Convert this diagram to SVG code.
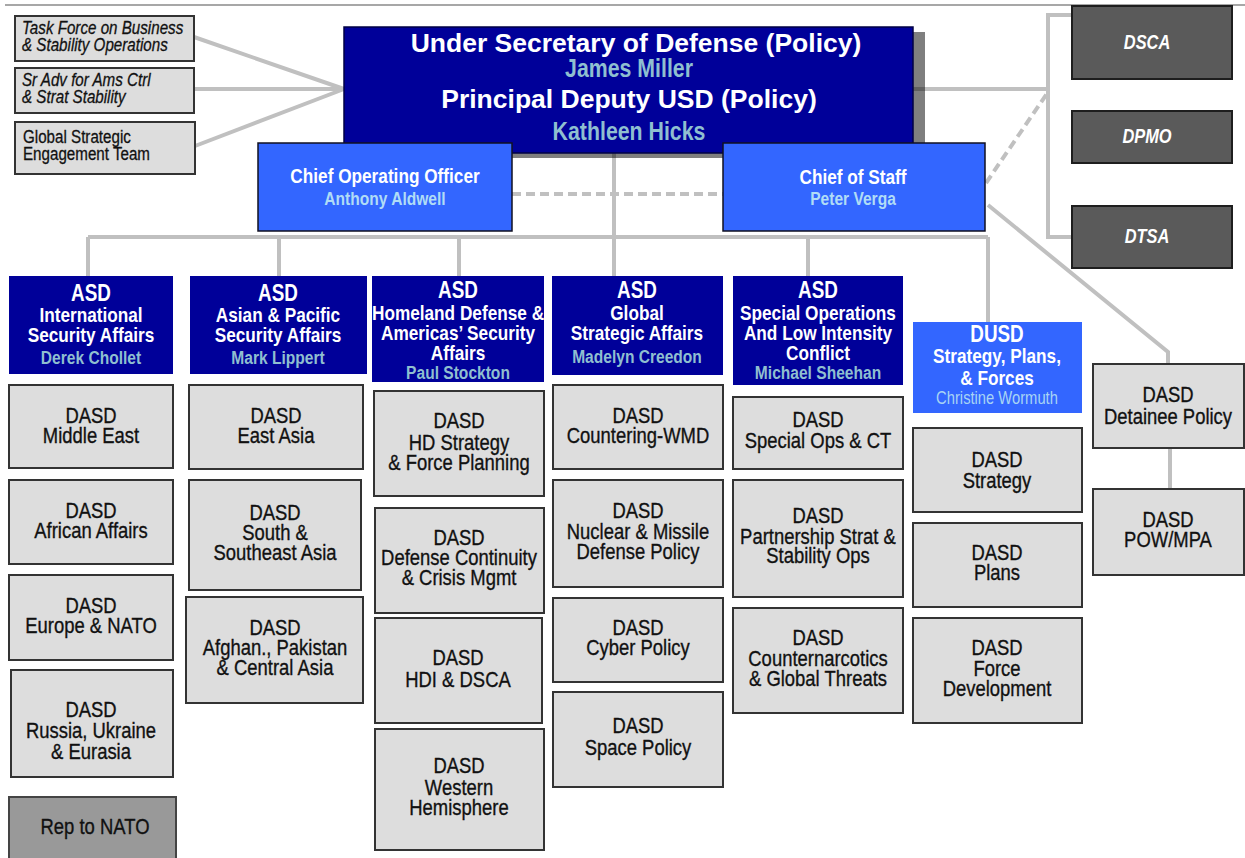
<svg xmlns="http://www.w3.org/2000/svg" width="1245" height="858" viewBox="0 0 1245 858">
  <style>
    .ln { fill: none; stroke: #c0c0c0; stroke-width: 4; }
    .dash { stroke-dasharray: 9 5; }
    .top { fill: none; stroke: #8a8a8a; stroke-width: 1.5; }
    .usd { fill: #000099; stroke: #000044; stroke-width: 1.5; }
    .asd { fill: #000099; }
    .lb  { fill: #3366ff; stroke: #111122; stroke-width: 1.5; }
    .lbx { fill: #3366ff; }
    .dasd { fill: #dddddd; stroke: #333333; stroke-width: 2; }
    .agency { fill: #5a5a5a; stroke: #1e1e1e; stroke-width: 2; }
    .rep { fill: #999999; stroke: #444444; stroke-width: 2; }
    text { text-anchor: middle; font-family: "Liberation Sans", Arial, sans-serif; }
    .wide { font-weight: bold; font-size: 26.5px; fill: #ffffff; }
    /* narrow lettering: Liberation Sans squeezed horizontally to 82% by each text's matrix */
    .nb { font-weight: bold; }
    .nr { font-weight: normal; }
    .hd { font-size: 21px; fill: #ffffff; }
    .hd .t { font-size: 23px; }
    .nm { font-size: 19px; fill: #8fbfd0; }
    .nml { font-size: 19px; fill: #b0dcf6; }
    .dt { font-size: 22.5px; fill: #111111; stroke: #111111; stroke-width: 0.35; }
    .ag { font-size: 20px; fill: #ffffff; font-style: italic; }
    .sm { font-size: 18.5px; fill: #111111; stroke: #111111; stroke-width: 0.3; text-anchor: start; }
    .it { font-style: italic; }
  </style>

  <!-- page rule -->
  <line class="top" x1="5" y1="5" x2="1245" y2="5"/>

  <!-- connectors -->
  <g id="connectors">
    <polyline class="ln" points="194,37 344,89 194,89"/>
    <line class="ln" x1="195" y1="146" x2="344" y2="89"/>
    <line class="ln" x1="913" y1="89" x2="1048" y2="89"/>
    <polyline class="ln" points="1073,15 1048,15 1048,237 1073,237"/>
    <line class="ln dash" x1="986" y1="183" x2="1048" y2="92"/>
    <line class="ln dash" x1="512" y1="194" x2="723" y2="194"/>
    <line class="ln" x1="614" y1="153" x2="614" y2="276"/>
    <line class="ln" x1="88" y1="237" x2="988" y2="237"/>
    <line class="ln" x1="88" y1="237" x2="88" y2="276"/>
    <line class="ln" x1="279" y1="237" x2="279" y2="276"/>
    <line class="ln" x1="459" y1="237" x2="459" y2="276"/>
    <line class="ln" x1="808" y1="237" x2="808" y2="276"/>
    <line class="ln" x1="988" y1="237" x2="988" y2="322"/>
    <polyline class="ln" points="988,205 1168,352 1168,364"/>
    <line class="ln" x1="1170" y1="448" x2="1170" y2="489"/>
  </g>

  <!-- advisory offices -->
  <g id="task-force">
    <rect class="dasd" x="15" y="16" width="179" height="45"/>
    <text class="nr sm it" transform="matrix(.82 0 0 1 22 0)"><tspan x="0" y="34">Task Force on Business</tspan><tspan x="0" y="51">&amp; Stability Operations</tspan></text>
  </g>
  <g id="sr-adv">
    <rect class="dasd" x="15" y="68" width="179" height="45"/>
    <text class="nr sm it" transform="matrix(.82 0 0 1 22 0)"><tspan x="0" y="86">Sr Adv for Ams Ctrl</tspan><tspan x="0" y="103">&amp; Strat Stability</tspan></text>
  </g>
  <g id="gset">
    <rect class="dasd" x="15" y="122" width="180" height="52"/>
    <text class="nr sm" transform="matrix(.82 0 0 1 23 0)"><tspan x="0" y="143">Global Strategic</tspan><tspan x="0" y="160">Engagement Team</tspan></text>
  </g>

  <!-- USD(P) -->
  <g id="usdp">
    <rect x="356" y="32" width="569" height="126" fill="#000000" fill-opacity="0.5"/>
    <rect class="usd" x="344" y="27" width="569" height="126"/>
    <text class="wide" x="636" y="52">Under Secretary of Defense (Policy)</text>
    <text class="nb" transform="matrix(.82 0 0 1 629 0)" x="0" y="77" font-size="26" fill="#8fbfd0">James Miller</text>
    <text class="wide" x="629" y="108">Principal Deputy USD (Policy)</text>
    <text class="nb" transform="matrix(.82 0 0 1 629 0)" x="0" y="140" font-size="26" fill="#8fbfd0">Kathleen Hicks</text>
  </g>

  <g id="coo">
    <rect class="lb" x="258" y="143" width="254" height="88"/>
    <text class="nb hd" transform="matrix(.82 0 0 1 385 0)" x="0" y="183" font-size="24">Chief Operating Officer</text>
    <text class="nb nml" transform="matrix(.82 0 0 1 385 0)" x="0" y="205">Anthony Aldwell</text>
  </g>
  <g id="cos">
    <rect class="lb" x="723" y="143" width="262" height="88"/>
    <text class="nb hd" transform="matrix(.82 0 0 1 853 0)" x="0" y="184" font-size="24">Chief of Staff</text>
    <text class="nb nml" transform="matrix(.82 0 0 1 853 0)" x="0" y="205">Peter Verga</text>
  </g>

  <!-- defense agencies -->
  <g id="dsca">
    <rect class="agency" x="1072" y="6" width="160" height="73"/>
    <text class="nb ag" transform="matrix(.82 0 0 1 1147 0)" x="0" y="49">DSCA</text>
  </g>
  <g id="dpmo">
    <rect class="agency" x="1072" y="111" width="160" height="52"/>
    <text class="nb ag" transform="matrix(.82 0 0 1 1147 0)" x="0" y="143">DPMO</text>
  </g>
  <g id="dtsa">
    <rect class="agency" x="1072" y="206" width="160" height="62"/>
    <text class="nb ag" transform="matrix(.82 0 0 1 1147 0)" x="0" y="243">DTSA</text>
  </g>

  <!-- assistant secretaries -->
  <g id="asd-isa">
    <rect class="asd" x="9" y="276" width="164" height="98"/>
    <text class="nb hd" transform="matrix(.82 0 0 1 91 0)"><tspan class="t" x="0" y="301">ASD</tspan><tspan x="0" y="322">International</tspan><tspan x="0" y="342">Security Affairs</tspan></text>
    <text class="nb nm" transform="matrix(.82 0 0 1 91 0)" x="0" y="364">Derek Chollet</text>
  </g>
  <g id="asd-apsa">
    <rect class="asd" x="190" y="276" width="177" height="98"/>
    <text class="nb hd" transform="matrix(.82 0 0 1 278 0)"><tspan class="t" x="0" y="301">ASD</tspan><tspan x="0" y="322">Asian &amp; Pacific</tspan><tspan x="0" y="342">Security Affairs</tspan></text>
    <text class="nb nm" transform="matrix(.82 0 0 1 278 0)" x="0" y="364">Mark Lippert</text>
  </g>
  <g id="asd-hd">
    <rect class="asd" x="372" y="276" width="172" height="106"/>
    <text class="nb hd" transform="matrix(.82 0 0 1 458 0)"><tspan class="t" x="0" y="298">ASD</tspan><tspan x="0" y="320">Homeland Defense &amp;</tspan><tspan x="0" y="340">Americas’ Security</tspan><tspan x="0" y="360">Affairs</tspan></text>
    <text class="nb nm" transform="matrix(.82 0 0 1 458 0)" x="0" y="379">Paul Stockton</text>
  </g>
  <g id="asd-gsa">
    <rect class="asd" x="552" y="276" width="171" height="99"/>
    <text class="nb hd" transform="matrix(.82 0 0 1 637 0)"><tspan class="t" x="0" y="298">ASD</tspan><tspan x="0" y="320">Global</tspan><tspan x="0" y="340">Strategic Affairs</tspan></text>
    <text class="nb nm" transform="matrix(.82 0 0 1 637 0)" x="0" y="363">Madelyn Creedon</text>
  </g>
  <g id="asd-solic">
    <rect class="asd" x="733" y="276" width="170" height="109"/>
    <text class="nb hd" transform="matrix(.82 0 0 1 818 0)"><tspan class="t" x="0" y="298">ASD</tspan><tspan x="0" y="320">Special Operations</tspan><tspan x="0" y="340">And Low Intensity</tspan><tspan x="0" y="360">Conflict</tspan></text>
    <text class="nb nm" transform="matrix(.82 0 0 1 818 0)" x="0" y="379">Michael Sheehan</text>
  </g>
  <g id="dusd-spf">
    <rect class="lbx" x="913" y="322" width="169" height="91"/>
    <text class="nb hd" font-size="22" transform="matrix(.82 0 0 1 997 0)"><tspan class="t" x="0" y="342">DUSD</tspan><tspan x="0" y="363">Strategy, Plans,</tspan><tspan x="0" y="385">&amp; Forces</tspan></text>
    <text class="nr" transform="matrix(.82 0 0 1 997 0)" x="0" y="404" font-size="18" fill="#a8d4f4">Christine Wormuth</text>
  </g>

  <!-- ISA deputies -->
  <g id="dasd-me"><rect class="dasd" x="9" y="385" width="164" height="83"/>
    <text class="nr dt" transform="matrix(.82 0 0 1 91 0)"><tspan x="0" y="423">DASD</tspan><tspan x="0" y="443">Middle East</tspan></text></g>
  <g id="dasd-af"><rect class="dasd" x="9" y="480" width="164" height="84"/>
    <text class="nr dt" transform="matrix(.82 0 0 1 91 0)"><tspan x="0" y="518">DASD</tspan><tspan x="0" y="538">African Affairs</tspan></text></g>
  <g id="dasd-eu"><rect class="dasd" x="9" y="575" width="164" height="85"/>
    <text class="nr dt" transform="matrix(.82 0 0 1 91 0)"><tspan x="0" y="613">DASD</tspan><tspan x="0" y="633">Europe &amp; NATO</tspan></text></g>
  <g id="dasd-ru"><rect class="dasd" x="11" y="670" width="162" height="107"/>
    <text class="nr dt" transform="matrix(.82 0 0 1 91 0)"><tspan x="0" y="717">DASD</tspan><tspan x="0" y="738">Russia, Ukraine</tspan><tspan x="0" y="759">&amp; Eurasia</tspan></text></g>
  <g id="rep-nato"><rect class="rep" x="9" y="797" width="167" height="70"/>
    <text class="nr dt" transform="matrix(.82 0 0 1 95 0)" x="0" y="834">Rep to NATO</text></g>

  <!-- APSA deputies -->
  <g id="dasd-ea"><rect class="dasd" x="189" y="385" width="174" height="84"/>
    <text class="nr dt" transform="matrix(.82 0 0 1 276 0)"><tspan x="0" y="423">DASD</tspan><tspan x="0" y="443">East Asia</tspan></text></g>
  <g id="dasd-ssa"><rect class="dasd" x="189" y="480" width="172" height="110"/>
    <text class="nr dt" transform="matrix(.82 0 0 1 275 0)"><tspan x="0" y="520">DASD</tspan><tspan x="0" y="540">South &amp;</tspan><tspan x="0" y="560">Southeast Asia</tspan></text></g>
  <g id="dasd-apca"><rect class="dasd" x="186" y="597" width="177" height="106"/>
    <text class="nr dt" transform="matrix(.82 0 0 1 275 0)"><tspan x="0" y="635">DASD</tspan><tspan x="0" y="655">Afghan., Pakistan</tspan><tspan x="0" y="675">&amp; Central Asia</tspan></text></g>

  <!-- HD&ASA deputies -->
  <g id="dasd-hds"><rect class="dasd" x="374" y="391" width="170" height="105"/>
    <text class="nr dt" transform="matrix(.82 0 0 1 459 0)"><tspan x="0" y="428">DASD</tspan><tspan x="0" y="450">HD Strategy</tspan><tspan x="0" y="470">&amp; Force Planning</tspan></text></g>
  <g id="dasd-dc"><rect class="dasd" x="375" y="508" width="169" height="105"/>
    <text class="nr dt" transform="matrix(.82 0 0 1 459 0)"><tspan x="0" y="545">DASD</tspan><tspan x="0" y="565">Defense Continuity</tspan><tspan x="0" y="585">&amp; Crisis Mgmt</tspan></text></g>
  <g id="dasd-hdi"><rect class="dasd" x="375" y="618" width="167" height="105"/>
    <text class="nr dt" transform="matrix(.82 0 0 1 458 0)"><tspan x="0" y="665">DASD</tspan><tspan x="0" y="687">HDI &amp; DSCA</tspan></text></g>
  <g id="dasd-wh"><rect class="dasd" x="375" y="729" width="169" height="121"/>
    <text class="nr dt" transform="matrix(.82 0 0 1 459 0)"><tspan x="0" y="773">DASD</tspan><tspan x="0" y="795">Western</tspan><tspan x="0" y="815">Hemisphere</tspan></text></g>

  <!-- GSA deputies -->
  <g id="dasd-cwmd"><rect class="dasd" x="553" y="385" width="170" height="84"/>
    <text class="nr dt" transform="matrix(.82 0 0 1 638 0)"><tspan x="0" y="423">DASD</tspan><tspan x="0" y="443">Countering-WMD</tspan></text></g>
  <g id="dasd-nmd"><rect class="dasd" x="553" y="480" width="170" height="107"/>
    <text class="nr dt" transform="matrix(.82 0 0 1 638 0)"><tspan x="0" y="518">DASD</tspan><tspan x="0" y="539">Nuclear &amp; Missile</tspan><tspan x="0" y="559">Defense Policy</tspan></text></g>
  <g id="dasd-cyber"><rect class="dasd" x="553" y="598" width="170" height="84"/>
    <text class="nr dt" transform="matrix(.82 0 0 1 638 0)"><tspan x="0" y="635">DASD</tspan><tspan x="0" y="655">Cyber Policy</tspan></text></g>
  <g id="dasd-space"><rect class="dasd" x="553" y="692" width="170" height="95"/>
    <text class="nr dt" transform="matrix(.82 0 0 1 638 0)"><tspan x="0" y="733">DASD</tspan><tspan x="0" y="755">Space Policy</tspan></text></g>

  <!-- SO/LIC deputies -->
  <g id="dasd-soct"><rect class="dasd" x="733" y="397" width="170" height="72"/>
    <text class="nr dt" transform="matrix(.82 0 0 1 818 0)"><tspan x="0" y="427">DASD</tspan><tspan x="0" y="448">Special Ops &amp; CT</tspan></text></g>
  <g id="dasd-pso"><rect class="dasd" x="733" y="480" width="170" height="117"/>
    <text class="nr dt" transform="matrix(.82 0 0 1 818 0)"><tspan x="0" y="523">DASD</tspan><tspan x="0" y="544">Partnership Strat &amp;</tspan><tspan x="0" y="563">Stability Ops</tspan></text></g>
  <g id="dasd-cn"><rect class="dasd" x="733" y="608" width="170" height="105"/>
    <text class="nr dt" transform="matrix(.82 0 0 1 818 0)"><tspan x="0" y="645">DASD</tspan><tspan x="0" y="666">Counternarcotics</tspan><tspan x="0" y="686">&amp; Global Threats</tspan></text></g>

  <!-- SP&F deputies -->
  <g id="dasd-strategy"><rect class="dasd" x="913" y="428" width="169" height="84"/>
    <text class="nr dt" transform="matrix(.82 0 0 1 997 0)"><tspan x="0" y="467">DASD</tspan><tspan x="0" y="488">Strategy</tspan></text></g>
  <g id="dasd-plans"><rect class="dasd" x="913" y="523" width="169" height="84"/>
    <text class="nr dt" transform="matrix(.82 0 0 1 997 0)"><tspan x="0" y="560">DASD</tspan><tspan x="0" y="580">Plans</tspan></text></g>
  <g id="dasd-fd"><rect class="dasd" x="913" y="618" width="169" height="105"/>
    <text class="nr dt" transform="matrix(.82 0 0 1 997 0)"><tspan x="0" y="655">DASD</tspan><tspan x="0" y="676">Force</tspan><tspan x="0" y="696">Development</tspan></text></g>

  <!-- detainee affairs -->
  <g id="dasd-detainee"><rect class="dasd" x="1093" y="364" width="151" height="84"/>
    <text class="nr dt" transform="matrix(.82 0 0 1 1168 0)"><tspan x="0" y="402">DASD</tspan><tspan x="0" y="424">Detainee Policy</tspan></text></g>
  <g id="dasd-powmpa"><rect class="dasd" x="1093" y="489" width="151" height="86"/>
    <text class="nr dt" transform="matrix(.82 0 0 1 1168 0)"><tspan x="0" y="527">DASD</tspan><tspan x="0" y="547">POW/MPA</tspan></text></g>
</svg>
